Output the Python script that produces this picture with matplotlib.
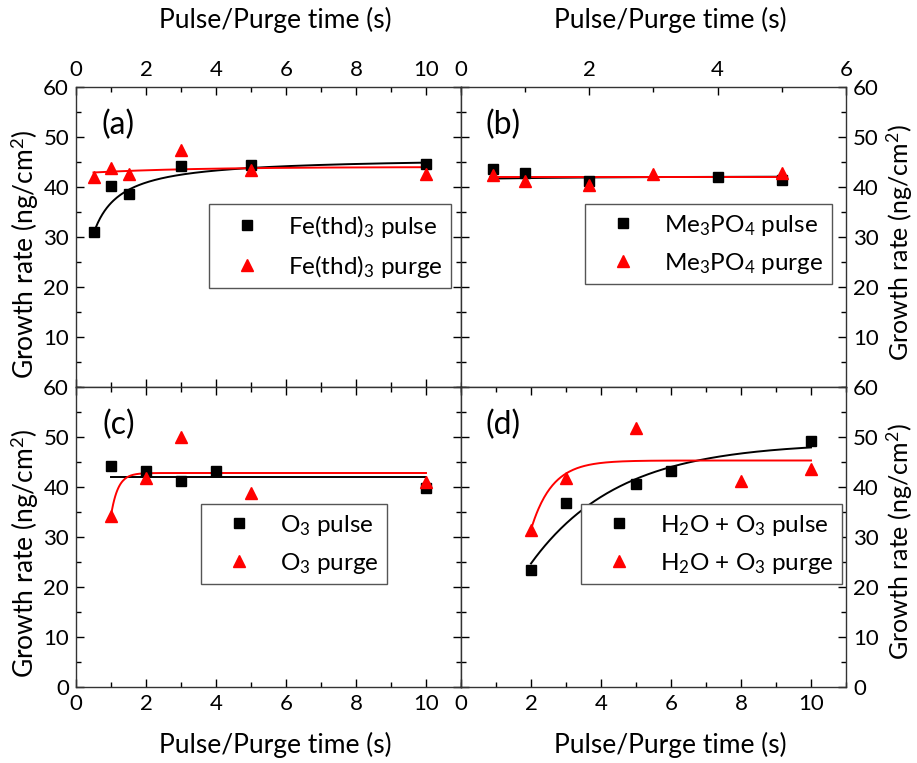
import numpy as np
import matplotlib
matplotlib.use("Agg")
import matplotlib.pyplot as plt
from matplotlib.ticker import MultipleLocator

plt.rcParams['font.family'] = ['Lato', 'DejaVu Sans']
plt.rcParams['mathtext.fontset'] = 'custom'
plt.rcParams['mathtext.rm'] = 'Lato'
plt.rcParams['mathtext.it'] = 'Lato:italic'

# (a) Fe(thd)3
a_pulse_x = [0.5, 1, 1.5, 3, 5, 10]
a_pulse_y = [31.0, 40.2, 38.6, 44.3, 44.5, 44.6]
a_purge_x = [0.5, 1, 1.5, 3, 5, 10]
a_purge_y = [42.1, 43.9, 42.6, 47.5, 43.4, 42.7]
# (b) Me3PO4, plotted against the top 0-6 s axis
b_pulse_x = [0.5, 1, 2, 4, 5]
b_pulse_y = [43.7, 42.9, 41.2, 42.1, 41.4]
b_purge_x = [0.5, 1, 2, 3, 5]
b_purge_y = [42.4, 41.3, 40.5, 42.7, 42.9]
# (c) O3
c_pulse_x = [1, 2, 3, 4, 10]
c_pulse_y = [44.3, 43.3, 41.2, 43.2, 39.9]
c_purge_x = [1, 2, 3, 5, 10]
c_purge_y = [34.3, 41.8, 50.1, 38.8, 41.0]
# (d) H2O + O3
d_pulse_x = [2, 3, 5, 6, 10]
d_pulse_y = [23.4, 36.9, 40.7, 43.3, 49.3]
d_purge_x = [2, 3, 5, 8, 10]
d_purge_y = [31.5, 41.9, 51.9, 41.2, 43.7]

# fitted saturation curves: plateau, drop at start, tau, x start, x end
a_purge_fit = (44.0, 1.1, 2.9, 0.5, 10)
b_pulse_fit = (42.1, 0.4, 2.0, 0.55, 5)
b_purge_fit = (42.1, 0.0, 1.0, 0.45, 5)
c_pulse_fit = (42.1, 0.0, 1.0, 1, 10)
c_purge_fit = (42.8, 8.5, 0.2, 1, 10)
d_pulse_fit = (48.9, 24.2, 2.5, 2, 10)
d_purge_fit = (45.3, 13.8, 0.6, 2, 10)
# Fe(thd)3 pulse uses a Langmuir-type fit: A*x/(K+x)
a_pulse_fit = (46.0, 0.25, 0.5, 10)

W, H = 917, 763
fig = plt.figure(figsize=(W / 100, H / 100), dpi=100)

def box(x0, y0, x1, y1):
    return [x0 / W, 1 - y1 / H, (x1 - x0) / W, (y1 - y0) / H]

ax_a = fig.add_axes(box(76, 87, 461, 387))
ax_b = fig.add_axes(box(461, 87, 846, 387))
ax_c = fig.add_axes(box(76, 387, 461, 687))
ax_d = fig.add_axes(box(461, 387, 846, 687))

def exp_fit(ax, p, color):
    A, B, t, x0, x1 = p
    xs = np.linspace(x0, x1, 300)
    ax.plot(xs, A - B * np.exp(-(xs - x0) / t), color=color, lw=1.4, zorder=2)

def points(ax, px, py, qx, qy, lab1, lab2, anchor):
    ax.plot(px, py, "s", color="black", ms=6.5, ls="none", label=lab1, zorder=3)
    ax.plot(qx, qy, "^", color="red", ms=8, ls="none", label=lab2, zorder=3)
    leg = ax.legend(loc="upper right", bbox_to_anchor=anchor, fontsize=17.5, frameon=True,
                    fancybox=False, edgecolor="#555555", framealpha=1,
                    handlelength=2.4, handletextpad=0.5, labelspacing=0.55,
                    borderpad=0.35, borderaxespad=0)
    leg.get_frame().set_linewidth(1.0)

def style(ax, xlim, xmaj, ylabels_side, yticks):
    ax.set_xlim(*xlim)
    ax.set_ylim(0, 60)
    ax.xaxis.set_major_locator(MultipleLocator(xmaj))
    ax.xaxis.set_minor_locator(MultipleLocator(xmaj / 2))
    ax.set_yticks(yticks)
    ax.yaxis.set_minor_locator(MultipleLocator(5))
    ax.tick_params(which="both", direction="in", top=True, bottom=True, left=True, right=True,
                   labelsize=16, colors="black", pad=5)
    ax.tick_params(which="major", length=6, width=1)
    ax.tick_params(which="minor", length=3.5, width=1)
    if ylabels_side == "right":
        ax.tick_params(labelleft=False, labelright=True)
    for s in ax.spines.values():
        s.set_linewidth(1.0)
        s.set_color("#333333")

yt_top = [10, 20, 30, 40, 50, 60]
yt_bot = [0, 10, 20, 30, 40, 50, 60]

# (a)
style(ax_a, (0, 11), 2, "left", yt_top)
ax_a.tick_params(labelbottom=False, labeltop=True)
ax_a.set_xticks([0, 2, 4, 6, 8, 10])
xs = np.linspace(a_pulse_fit[2], a_pulse_fit[3], 300)
ax_a.plot(xs, a_pulse_fit[0] * xs / (a_pulse_fit[1] + xs), color="black", lw=1.4, zorder=2)
exp_fit(ax_a, a_purge_fit, "red")
points(ax_a, a_pulse_x, a_pulse_y, a_purge_x, a_purge_y,
       r"Fe(thd)$_\mathregular{3}$ pulse", r"Fe(thd)$_\mathregular{3}$ purge", (0.975, 0.61))

# (b)
style(ax_b, (0, 6), 2, "right", yt_top)
ax_b.tick_params(labelbottom=False, labeltop=True, bottom=False, which="both")
exp_fit(ax_b, b_pulse_fit, "black")
exp_fit(ax_b, b_purge_fit, "red")
points(ax_b, b_pulse_x, b_pulse_y, b_purge_x, b_purge_y,
       r"Me$_\mathregular{3}$PO$_\mathregular{4}$ pulse", r"Me$_\mathregular{3}$PO$_\mathregular{4}$ purge", (0.964, 0.61))

# (c)
style(ax_c, (0, 11), 2, "left", yt_bot)
ax_c.set_xticks([0, 2, 4, 6, 8, 10])
exp_fit(ax_c, c_pulse_fit, "black")
exp_fit(ax_c, c_purge_fit, "red")
points(ax_c, c_pulse_x, c_pulse_y, c_purge_x, c_purge_y,
       r"O$_\mathregular{3}$ pulse", r"O$_\mathregular{3}$ purge", (0.808, 0.61))

# (d)
style(ax_d, (0, 11), 2, "right", yt_bot)
ax_d.set_xticks([0, 2, 4, 6, 8, 10])
exp_fit(ax_d, d_pulse_fit, "black")
exp_fit(ax_d, d_purge_fit, "red")
points(ax_d, d_pulse_x, d_pulse_y, d_purge_x, d_purge_y,
       r"H$_\mathregular{2}$O + O$_\mathregular{3}$ pulse", r"H$_\mathregular{2}$O + O$_\mathregular{3}$ purge", (0.99, 0.61))

for ax, lab in zip([ax_a, ax_b, ax_c, ax_d], ["(a)", "(b)", "(c)", "(d)"]):
    ax.text(0.11, 0.873, lab, transform=ax.transAxes, fontsize=23, ha="center", va="center")

xlab = "Pulse/Purge time (s)"
ylab = r"Growth rate (ng/cm$^\mathregular{2}$)"
fig.text(275 / W, 1 - 20 / H, xlab, fontsize=19, ha="center", va="center")
fig.text(670 / W, 1 - 20 / H, xlab, fontsize=19, ha="center", va="center")
fig.text(275 / W, 1 - 745 / H, xlab, fontsize=19, ha="center", va="center")
fig.text(670 / W, 1 - 745 / H, xlab, fontsize=19, ha="center", va="center")
fig.text(25 / W, 1 - 254 / H, ylab, fontsize=19, rotation=90, ha="center", va="center")
fig.text(25 / W, 1 - 553 / H, ylab, fontsize=19, rotation=90, ha="center", va="center")
fig.text(915 / W, 1 - 243 / H, ylab, fontsize=18, rotation=90, ha="right", va="center")
fig.text(915 / W, 1 - 542 / H, ylab, fontsize=18, rotation=90, ha="right", va="center")

fig.savefig("out.png", dpi=100)
